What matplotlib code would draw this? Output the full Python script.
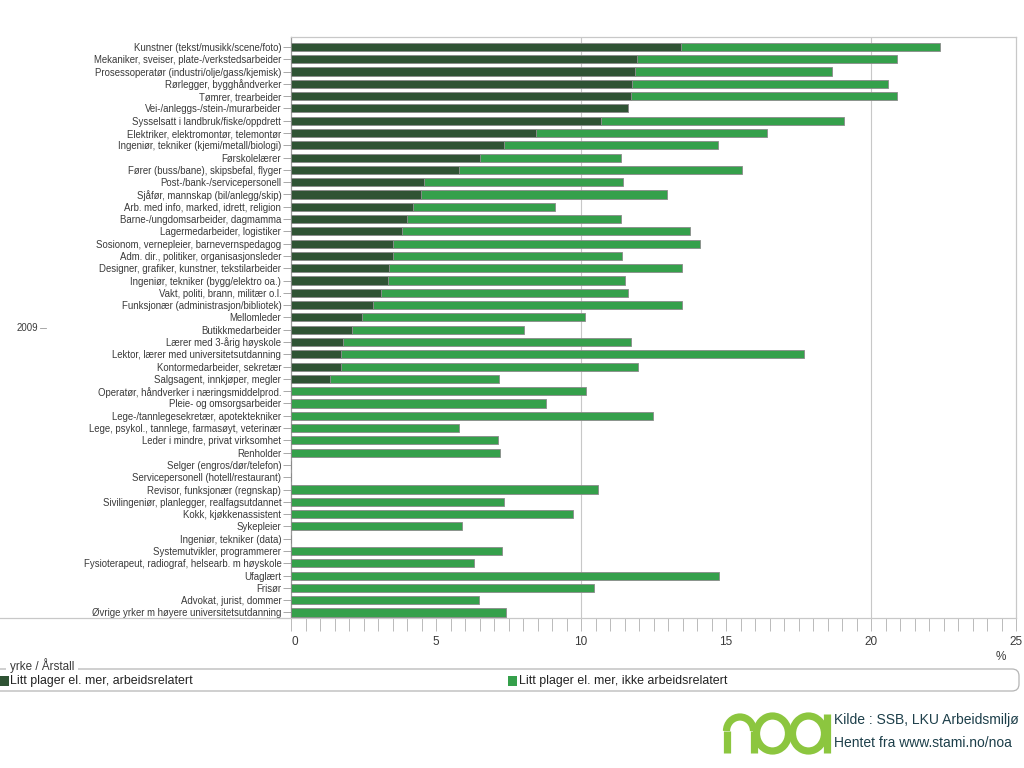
import matplotlib
matplotlib.use("Agg")
import matplotlib.pyplot as plt
from matplotlib.patches import FancyBboxPatch, Rectangle, Arc
from matplotlib.ticker import MultipleLocator
import numpy as np

plt.rcParams['font.family'] = ['Liberation Sans', 'DejaVu Sans']

categories = [
    "Kunstner (tekst/musikk/scene/foto)",
    "Mekaniker, sveiser, plate-/verkstedsarbeider",
    "Prosessoperatør (industri/olje/gass/kjemisk)",
    "Rørlegger, bygghåndverker",
    "Tømrer, trearbeider",
    "Vei-/anleggs-/stein-/murarbeider",
    "Sysselsatt i landbruk/fiske/oppdrett",
    "Elektriker, elektromontør, telemontør",
    "Ingeniør, tekniker (kjemi/metall/biologi)",
    "Førskolelærer",
    "Fører (buss/bane), skipsbefal, flyger",
    "Post-/bank-/servicepersonell",
    "Sjåfør, mannskap (bil/anlegg/skip)",
    "Arb. med info, marked, idrett, religion",
    "Barne-/ungdomsarbeider, dagmamma",
    "Lagermedarbeider, logistiker",
    "Sosionom, vernepleier, barnevernspedagog",
    "Adm. dir., politiker, organisasjonsleder",
    "Designer, grafiker, kunstner, tekstilarbeider",
    "Ingeniør, tekniker (bygg/elektro oa.)",
    "Vakt, politi, brann, militær o.l.",
    "Funksjonær (administrasjon/bibliotek)",
    "Mellomleder",
    "Butikkmedarbeider",
    "Lærer med 3-årig høyskole",
    "Lektor, lærer med universitetsutdanning",
    "Kontormedarbeider, sekretær",
    "Salgsagent, innkjøper, megler",
    "Operatør, håndverker i næringsmiddelprod.",
    "Pleie- og omsorgsarbeider",
    "Lege-/tannlegesekretær, apotektekniker",
    "Lege, psykol., tannlege, farmasøyt, veterinær",
    "Leder i mindre, privat virksomhet",
    "Renholder",
    "Selger (engros/dør/telefon)",
    "Servicepersonell (hotell/restaurant)",
    "Revisor, funksjonær (regnskap)",
    "Sivilingeniør, planlegger, realfagsutdannet",
    "Kokk, kjøkkenassistent",
    "Sykepleier",
    "Ingeniør, tekniker (data)",
    "Systemutvikler, programmerer",
    "Fysioterapeut, radiograf, helsearb. m høyskole",
    "Ufaglært",
    "Frisør",
    "Advokat, jurist, dommer",
    "Øvrige yrker m høyere universitetsutdanning",
]

# Litt plager el. mer, arbeidsrelatert (%)
work_related = [
    13.44, 11.94, 11.86, 11.76, 11.73, 11.63, 10.68, 8.45, 7.36, 6.51,
    5.81, 4.58, 4.48, 4.20, 4.01, 3.83, 3.52, 3.52, 3.37, 3.34,
    3.09, 2.82, 2.44, 2.10, 1.78, 1.74, 1.74, 1.34, 0, 0,
    0, 0, 0, 0, 0, 0, 0, 0, 0, 0,
    0, 0, 0, 0, 0, 0, 0,
]

totals = [
    22.38, 20.90, 18.65, 20.59, 20.91, 11.63, 19.07, 16.40, 14.71, 11.38,
    15.54, 11.45, 12.95, 9.10, 11.38, 13.75, 14.09, 11.42, 13.47, 11.50,
    11.63, 13.49, 10.13, 8.05, 11.71, 17.69, 11.95, 7.17, 10.18, 8.78,
    12.49, 5.80, 7.15, 7.20, 0, 0, 10.57, 7.35, 9.71, 5.88,
    0, 7.28, 6.32, 14.77, 10.46, 6.50, 7.43,
]
not_work_related = [round(t - w, 2) for t, w in zip(totals, work_related)]

series_names = ["Litt plager el. mer, arbeidsrelatert",
                "Litt plager el. mer, ikke arbeidsrelatert"]
year_label = "2009"
x_ticks = [0, 5, 10, 15, 20, 25]

dark = "#2f5334"
light = "#35a04b"
edge = "#8a8a8a"
gridc = "#c8c8c8"
textc = "#3a3a3a"

W, H = 1024, 768
fig = plt.figure(figsize=(W / 100, H / 100), dpi=100)

def fx(px):
    return px / W

def fy(py):
    return 1 - py / H

ax_left, ax_right, ax_top, ax_bot = 291, 1016, 37, 618
ax = fig.add_axes([fx(ax_left), fy(ax_bot), fx(ax_right - ax_left), (ax_bot - ax_top) / H])

n = len(categories)
y = np.arange(n)
ax.barh(y, work_related, height=0.66, color=dark, edgecolor=edge, linewidth=0.6, zorder=3)
ax.barh(y, not_work_related, left=work_related, height=0.66, color=light,
        edgecolor=edge, linewidth=0.6, zorder=3)

ax.set_xlim(0, 25)
ax.set_ylim(n - 1 + 0.45, -0.81)
ax.set_yticks(y)
ax.set_yticklabels(categories, fontsize=6.95, color=textc)
ax.tick_params(axis='y', length=6, width=0.6, color="#9a9a9a", pad=1)

ax.set_xticks(x_ticks)
ax.set_xticklabels([str(v) for v in x_ticks], fontsize=8.5, color=textc)
ax.xaxis.set_minor_locator(MultipleLocator(0.5))
ax.tick_params(axis='x', which='both', length=9, width=0.6, color="#b0b0b0", pad=4)
labels = ax.get_xticklabels()
labels[0].set_horizontalalignment('left')

for gx in (10, 20):
    ax.axvline(gx, color=gridc, linewidth=0.8, zorder=1)

for s in ['top', 'right', 'left', 'bottom']:
    ax.spines[s].set_color(gridc)
    ax.spines[s].set_linewidth(0.9)
ax.spines['left'].set_color("#9a9a9a")

# Overlay figure-coordinate axes for decorations
ov = fig.add_axes([0, 0, 1, 1], facecolor='none')
ov.set_xlim(0, W)
ov.set_ylim(H, 0)
ov.axis('off')

# bottom line extending to the left
ov.plot([0, ax_left], [ax_bot, ax_bot], color=gridc, lw=0.9)

# outer category label
ov.text(38, 328, year_label, ha='right', va='center', fontsize=6.95, color=textc)
ov.plot([40, 46], [328, 328], color="#9a9a9a", lw=0.6)

# percent sign
ov.text(1001, 657, "%", ha='center', va='center', fontsize=8.5, color=textc)

# legend frame
leg = FancyBboxPatch((-8, 669), 1027, 22, boxstyle="round,pad=0,rounding_size=7",
                     facecolor='none', edgecolor="#b5b5b5", linewidth=0.9)
ov.add_patch(leg)
ov.add_patch(Rectangle((6, 662), 72, 10, facecolor='white', edgecolor='none'))
ov.text(10, 666, "yrke / Årstall", ha='left', va='center', fontsize=8.4, color=textc)
ov.add_patch(Rectangle((0, 676), 9, 10, facecolor=dark, edgecolor='none'))
ov.text(10, 681, series_names[0], ha='left', va='center', fontsize=8.9, color="#222222")
ov.add_patch(Rectangle((508, 676), 9, 10, facecolor=light, edgecolor='none'))
ov.text(519, 681, series_names[1], ha='left', va='center', fontsize=8.9, color="#222222")

# noa logo
lime = "#8cc63f"
lw = 5.2
# n
ov.plot([726.5, 726.5], [753, 731], color=lime, lw=lw, solid_capstyle='butt')
ov.plot([753.5, 753.5], [753, 731], color=lime, lw=lw, solid_capstyle='butt')
ov.add_patch(Arc((740, 731), 27, 28, theta1=180, theta2=360, color=lime, lw=lw))
# o
ov.add_patch(Arc((772.5, 733.5), 32, 35, color=lime, lw=lw))
# a
ov.add_patch(Arc((808.5, 733.5), 32, 35, color=lime, lw=lw))
ov.plot([826.5, 826.5], [714, 753], color=lime, lw=lw, solid_capstyle='butt')

srcc = "#1d3f4a"
ov.text(834, 720, "Kilde : SSB, LKU Arbeidsmiljø", ha='left', va='center', fontsize=10.0, color=srcc)
ov.text(834, 743, "Hentet fra www.stami.no/noa", ha='left', va='center', fontsize=10.0, color=srcc)

fig.savefig("out.png", dpi=100)
